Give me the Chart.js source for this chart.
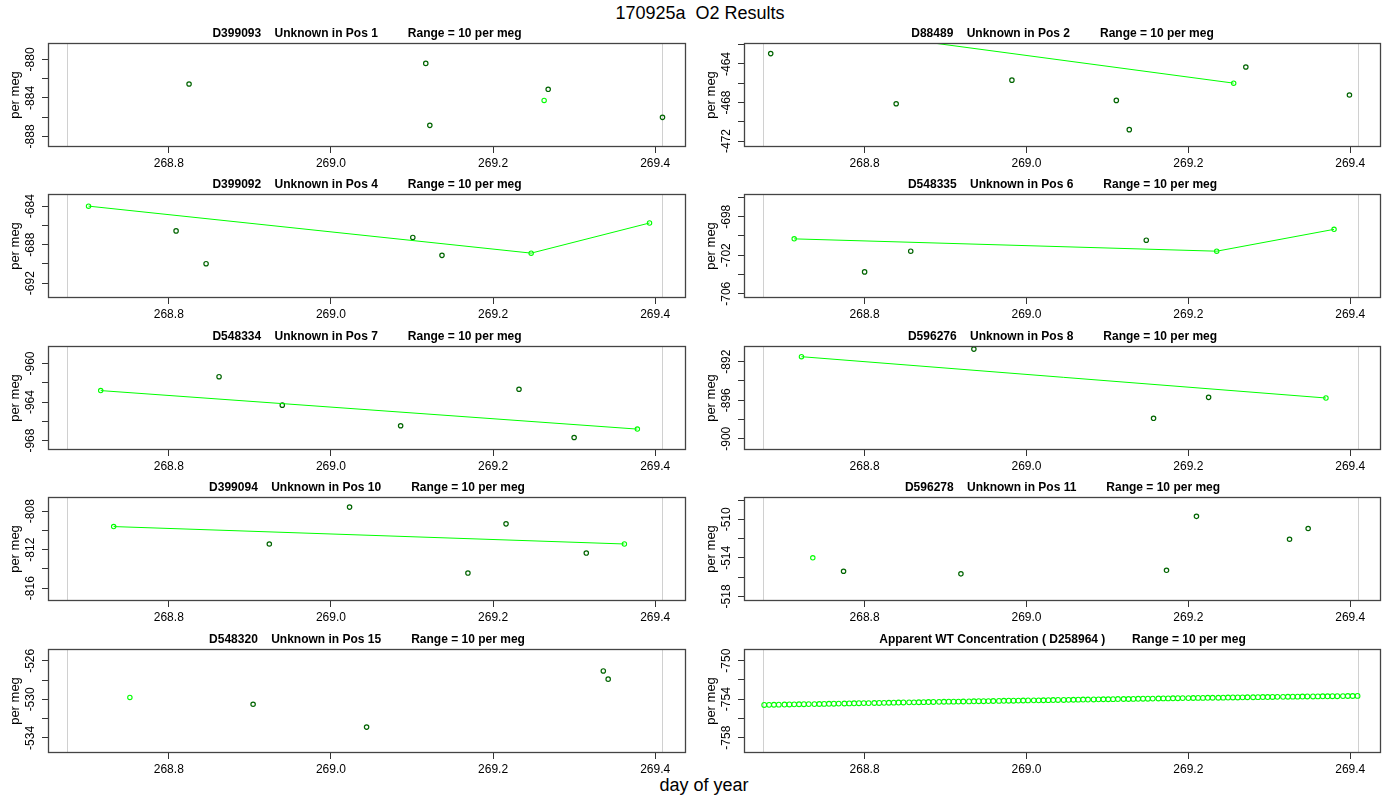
<!DOCTYPE html>
<html>
<head>
<meta charset="utf-8">
<title>170925a O2 Results</title>
<script src="https://cdn.jsdelivr.net/npm/chart.js@4.4.1/dist/chart.umd.min.js"></script>
<style>
  body { margin: 0; background: #fff; font-family: "Liberation Sans", Arial, sans-serif; }
  #page { position: relative; width: 1400px; height: 800px; overflow: hidden; }
  .main-title { position: absolute; left: 0; width: 1400px; top: 2px; text-align: center; font-size: 18px; line-height: 22px; }
  .x-title { position: absolute; left: 4px; width: 1400px; top: 774px; text-align: center; font-size: 18px; line-height: 22px; }
  canvas.panel { position: absolute; }
</style>
</head>
<body>
<div id="page">
  <div class="main-title">170925a&nbsp;&nbsp;O2 Results</div>
  <div class="x-title">day of year</div>
</div>
<script>
// Panel titles
const panelTitles = [
    'D399093    Unknown in Pos 1         Range = 10 per meg',
    'D88489    Unknown in Pos 2         Range = 10 per meg',
    'D399092    Unknown in Pos 4         Range = 10 per meg',
    'D548335    Unknown in Pos 6         Range = 10 per meg',
    'D548334    Unknown in Pos 7         Range = 10 per meg',
    'D596276    Unknown in Pos 8         Range = 10 per meg',
    'D399094    Unknown in Pos 10         Range = 10 per meg',
    'D596278    Unknown in Pos 11         Range = 10 per meg',
    'D548320    Unknown in Pos 15         Range = 10 per meg',
    'Apparent WT Concentration ( D258964 )        Range = 10 per meg'
];

// Axis ranges
const dayRange = [268.651, 269.438];
const runSpan = [268.675, 269.409];
const yCenters = [-883.70, -467.22, -688.14, -701.04, -963.58, -895.77, -811.93, -513.08, -530.17, -754.19];
const yHalfRange = 5.4;

// Pos 1
const pos1Days = [268.825, 269.117, 269.122, 269.268, 269.409];
const pos1Vals = [-882.56, -880.42, -886.85, -883.11, -886.02];
const pos1RefDays = [269.263];
const pos1RefVals = [-884.26];
// Pos 2
const pos2Days = [268.684, 268.839, 268.982, 269.111, 269.127, 269.271, 269.399];
const pos2Vals = [-462.92, -468.13, -465.68, -467.78, -470.82, -464.31, -467.22];
const pos2RefDays = [268.705, 269.256];
const pos2RefVals = [-459.8, -465.99];
// Pos 4
const pos4Days = [268.809, 268.846, 269.101, 269.137];
const pos4Vals = [-686.57, -689.98, -687.25, -689.11];
const pos4RefDays = [268.701, 269.247, 269.393];
const pos4RefVals = [-684.0, -688.88, -685.75];
// Pos 6
const pos6Days = [268.800, 268.857, 269.148];
const pos6Vals = [-703.73, -701.58, -700.44];
const pos6RefDays = [268.713, 269.235, 269.380];
const pos6RefVals = [-700.30, -701.58, -699.31];
// Pos 7
const pos7Days = [268.862, 268.940, 269.086, 269.232, 269.300];
const pos7Vals = [-961.37, -964.32, -966.46, -962.67, -967.68];
const pos7RefDays = [268.716, 269.378];
const pos7RefVals = [-962.81, -966.81];
// Pos 8
const pos8Days = [268.935, 269.157, 269.225];
const pos8Vals = [-890.69, -897.88, -895.70];
const pos8RefDays = [268.722, 269.370];
const pos8RefVals = [-891.48, -895.77];
// Pos 10
const pos10Days = [268.924, 269.023, 269.169, 269.216, 269.315];
const pos10Vals = [-811.41, -807.58, -814.43, -809.32, -812.35];
const pos10RefDays = [268.732, 269.362];
const pos10RefVals = [-809.60, -811.41];
// Pos 11
const pos11Days = [268.774, 268.919, 269.173, 269.210, 269.325, 269.348];
const pos11Vals = [-515.39, -515.66, -515.29, -509.69, -512.07, -510.95];
const pos11RefDays = [268.736];
const pos11RefVals = [-514.00];
// Pos 15
const pos15Days = [268.904, 269.044, 269.336, 269.342];
const pos15Vals = [-530.51, -532.88, -527.05, -527.90];
const pos15RefDays = [268.752];
const pos15RefVals = [-529.80];
// Apparent WT concentration (D258964)
const wtDays = [
    268.676, 268.682, 268.688, 268.694, 268.701, 268.707, 268.713, 268.719, 268.725, 268.731,
    268.738, 268.744, 268.750, 268.756, 268.762, 268.768, 268.775, 268.781, 268.787, 268.793,
    268.799, 268.805, 268.812, 268.818, 268.824, 268.830, 268.836, 268.842, 268.848, 268.855,
    268.861, 268.867, 268.873, 268.879, 268.885, 268.892, 268.898, 268.904, 268.910, 268.916,
    268.922, 268.929, 268.935, 268.941, 268.947, 268.953, 268.959, 268.966, 268.972, 268.978,
    268.984, 268.990, 268.996, 269.002, 269.009, 269.015, 269.021, 269.027, 269.033, 269.039,
    269.046, 269.052, 269.058, 269.064, 269.070, 269.076, 269.083, 269.089, 269.095, 269.101,
    269.107, 269.113, 269.120, 269.126, 269.132, 269.138, 269.144, 269.150, 269.156, 269.163,
    269.169, 269.175, 269.181, 269.187, 269.193, 269.200, 269.206, 269.212, 269.218, 269.224,
    269.230, 269.237, 269.243, 269.249, 269.255, 269.261, 269.267, 269.273, 269.280, 269.286,
    269.292, 269.298, 269.304, 269.310, 269.317, 269.323, 269.329, 269.335, 269.341, 269.347,
    269.354, 269.360, 269.366, 269.372, 269.378, 269.384, 269.391, 269.397, 269.403, 269.409
];
const wtVals = [
    -754.60, -754.59, -754.58, -754.57, -754.56, -754.55, -754.54, -754.53, -754.52, -754.51,
    -754.51, -754.50, -754.49, -754.48, -754.47, -754.46, -754.45, -754.44, -754.43, -754.42,
    -754.41, -754.41, -754.40, -754.39, -754.38, -754.37, -754.36, -754.35, -754.34, -754.33,
    -754.33, -754.32, -754.31, -754.30, -754.29, -754.28, -754.27, -754.26, -754.26, -754.25,
    -754.24, -754.23, -754.22, -754.21, -754.21, -754.20, -754.19, -754.18, -754.17, -754.16,
    -754.16, -754.15, -754.14, -754.13, -754.12, -754.12, -754.11, -754.10, -754.09, -754.08,
    -754.08, -754.07, -754.06, -754.05, -754.04, -754.04, -754.03, -754.02, -754.01, -754.01,
    -754.00, -753.99, -753.98, -753.98, -753.97, -753.96, -753.95, -753.95, -753.94, -753.93,
    -753.92, -753.92, -753.91, -753.90, -753.89, -753.89, -753.88, -753.87, -753.87, -753.86,
    -753.85, -753.85, -753.84, -753.83, -753.82, -753.82, -753.81, -753.80, -753.80, -753.79,
    -753.78, -753.78, -753.77, -753.76, -753.76, -753.75, -753.74, -753.74, -753.73, -753.72,
    -753.72, -753.71, -753.70, -753.70, -753.69, -753.69, -753.68, -753.67, -753.67, -753.66
];

const sampleDays = [pos1Days, pos2Days, pos4Days, pos6Days, pos7Days, pos8Days, pos10Days, pos11Days, pos15Days, []];
const sampleVals = [pos1Vals, pos2Vals, pos4Vals, pos6Vals, pos7Vals, pos8Vals, pos10Vals, pos11Vals, pos15Vals, []];
const refDays = [pos1RefDays, pos2RefDays, pos4RefDays, pos6RefDays, pos7RefDays, pos8RefDays, pos10RefDays, pos11RefDays, pos15RefDays, wtDays];
const refVals = [pos1RefVals, pos2RefVals, pos4RefVals, pos6RefVals, pos7RefVals, pos8RefVals, pos10RefVals, pos11RefVals, pos15RefVals, wtVals];

const FONT = '"Liberation Sans", Arial, sans-serif';
Chart.defaults.font.family = FONT;
Chart.defaults.color = '#000';

// Box, grey run lines, title and rotated y labels (R style)
const panelFrame = {
    id: 'panelFrame',
    beforeDatasetsDraw(chart) {
        const { ctx, chartArea: a, scales: { x } } = chart;
        ctx.save();
        ctx.strokeStyle = '#d0d0d0';
        ctx.lineWidth = 1;
        runSpan.forEach(d => {
            const px = Math.round(x.getPixelForValue(d)) + 0.5;
            ctx.beginPath();
            ctx.moveTo(px, a.top);
            ctx.lineTo(px, a.bottom);
            ctx.stroke();
        });
        ctx.restore();
    },
    afterDraw(chart, args, opts) {
        const { ctx, chartArea: a, scales: { y } } = chart;
        ctx.save();
        ctx.strokeStyle = '#444';
        ctx.lineWidth = 1.3;
        ctx.strokeRect(a.left + 0.5, a.top + 0.5, a.right - a.left - 1, a.bottom - a.top - 1);

        ctx.fillStyle = '#000';
        ctx.textAlign = 'center';
        ctx.textBaseline = 'middle';
        ctx.font = 'bold 12px ' + FONT;
        ctx.fillText(opts.title, (a.left + a.right) / 2, a.top - 9);

        ctx.font = '12px ' + FONT;
        y.ticks.forEach((t, i) => {
            if (i % 2) return;
            ctx.save();
            ctx.translate(a.left - 17, y.getPixelForValue(t.value));
            ctx.rotate(-Math.PI / 2);
            ctx.fillText(String(t.value), 0, 0);
            ctx.restore();
        });

        ctx.font = '13px ' + FONT;
        ctx.translate(a.left - 33, (a.top + a.bottom) / 2);
        ctx.rotate(-Math.PI / 2);
        ctx.fillText('per meg', 0, 0);
        ctx.restore();
    }
};

const rowTops = [43, 194, 346, 497, 649];
const page = document.getElementById('page');

panelTitles.forEach((title, i) => {
    const row = Math.floor(i / 2);
    const col = i % 2;
    const canvas = document.createElement('canvas');
    canvas.className = 'panel';
    canvas.width = col ? 704 : 696;
    canvas.height = 158;
    canvas.style.left = (col ? 696 : 0) + 'px';
    canvas.style.top = (rowTops[row] - 28) + 'px';
    page.appendChild(canvas);

    const isWT = i === 9;
    new Chart(canvas.getContext('2d'), {
        type: 'scatter',
        data: {
            datasets: [
                {
                    data: refDays[i].map((d, k) => ({ x: d, y: refVals[i][k] })),
                    showLine: !isWT,
                    borderColor: '#00ff00',
                    borderWidth: 1,
                    pointBorderColor: '#00ff00',
                    pointBackgroundColor: 'rgba(0,0,0,0)',
                    pointRadius: isWT ? 2.4 : 2.2,
                    pointBorderWidth: 1.1
                },
                {
                    data: sampleDays[i].map((d, k) => ({ x: d, y: sampleVals[i][k] })),
                    showLine: false,
                    pointBorderColor: '#006400',
                    pointBackgroundColor: 'rgba(0,0,0,0)',
                    pointRadius: 2.2,
                    pointBorderWidth: 1.2
                }
            ]
        },
        options: {
            responsive: false,
            animation: false,
            events: [],
            layout: { padding: { top: 28, right: col ? 19 : 10, bottom: 0, left: 0 } },
            scales: {
                x: {
                    type: 'linear',
                    min: dayRange[0],
                    max: dayRange[1],
                    border: { display: false },
                    grid: { drawOnChartArea: false, tickLength: 6, color: '#333' },
                    ticks: {
                        stepSize: 0.2,
                        includeBounds: false,
                        autoSkip: false,
                        maxRotation: 0,
                        padding: 3,
                        font: { size: 12 },
                        callback: v => v.toFixed(1)
                    },
                    afterFit: s => { s.height = 26; }
                },
                y: {
                    type: 'linear',
                    min: yCenters[i] - yHalfRange,
                    max: yCenters[i] + yHalfRange,
                    border: { display: false },
                    grid: { drawOnChartArea: false, tickLength: 6, color: '#333' },
                    ticks: { stepSize: 2, includeBounds: false, display: false },
                    afterFit: s => { s.width = 48; }
                }
            },
            plugins: {
                legend: { display: false },
                tooltip: { enabled: false },
                panelFrame: { title: title }
            }
        },
        plugins: [panelFrame]
    });
});
</script>
</body>
</html>
